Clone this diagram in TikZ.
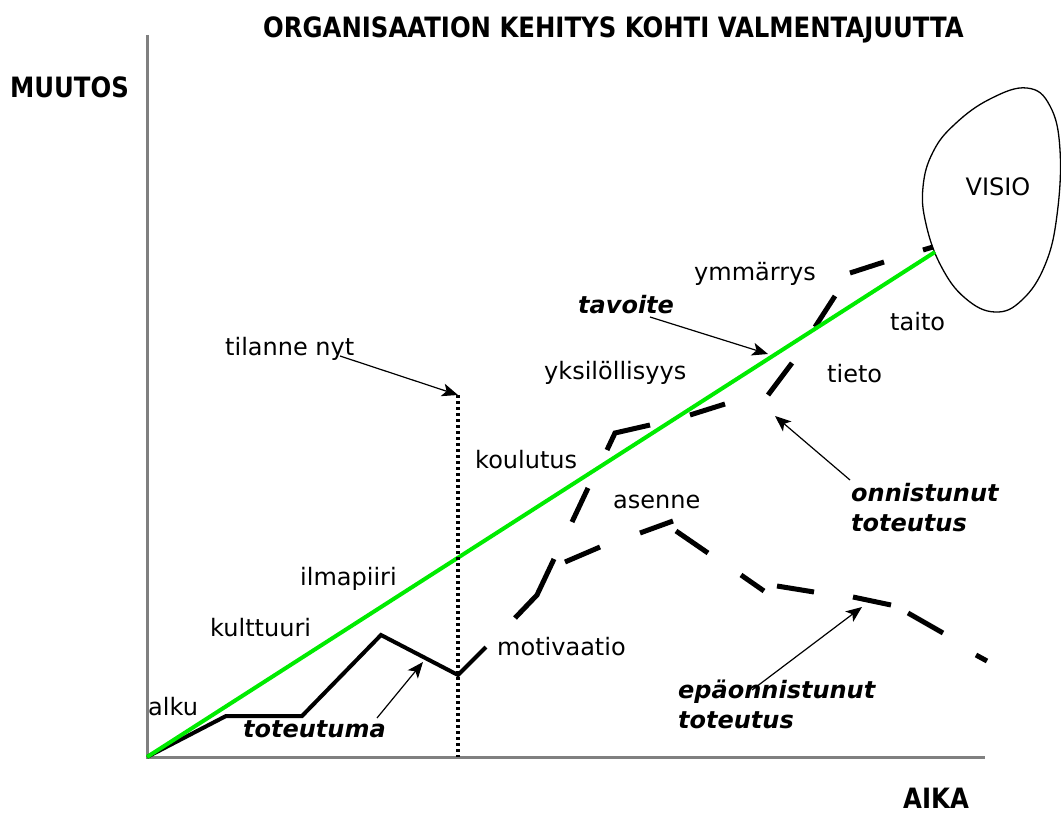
\documentclass[tikz,border=0pt]{standalone}
\usepackage{fontspec}
\setmainfont{DejaVu Sans}
\newfontfamily\headfont{DejaVu Sans}[FakeStretch=0.87]
\usetikzlibrary{arrows.meta}
\definecolor{axisgray}{RGB}{128,128,128}
\definecolor{goalgreen}{RGB}{0,235,0}

\begin{document}
\begin{tikzpicture}[x=1pt,y=-1pt,
  lbl/.style={font=\fontsize{24}{30}\selectfont, inner sep=0pt, anchor=base west},
  emph/.style={font=\fontsize{24}{30}\selectfont\bfseries\itshape, inner sep=0pt, anchor=base west, align=left},
  head/.style={font=\headfont\fontsize{28}{32}\selectfont\bfseries, inner sep=0pt, anchor=base west},
  axis/.style={axisgray, line width=3pt},
  pointer/.style={line width=1.2pt, -{Stealth[length=16pt,width=13pt,inset=4pt]}},
  realized/.style={line width=4pt, line join=miter},
  dashpiece/.style={line width=5pt, line join=miter},
  goal/.style={goalgreen, line width=4pt},
  nowline/.style={line width=3.5pt, dash pattern=on 3pt off 3pt},
  blob/.style={line width=1.3pt}
]
\useasboundingbox (0,0) rectangle (1061,816);

% headings and axis names
\node[head] (title) at (263,38) {ORGANISAATION KEHITYS KOHTI VALMENTAJUUTTA};
\node[head] (yname) at (10,98) {MUUTOS};
\node[head] (xname) at (903,808) {AIKA};

% axes
\coordinate (origin) at (147,757);
\coordinate (ytop) at (147,35);
\coordinate (xend) at (985,757);
\draw[axis] (ytop) -- (origin) -- (xend);

% vision cloud
\draw[blob] plot[smooth cycle, tension=0.7] coordinates {
  (1027,88) (1050,106) (1060,150) (1057,215) (1045,265) (1022,300)
  (995,312) (965,298) (941,266) (926,224) (923,187) (933,152)
  (955,124) (990,99)};
\node[lbl, anchor=base] (visio) at (998,195) {VISIO};

% realized path so far
\draw[realized] (origin) -- (226,716) -- (302,716) -- (381,635) -- (458,675) -- (486,647);

% continuation: shared start
\draw[dashpiece] (515,618) -- (537,595) -- (554,559);
% successful continuation
\draw[dashpiece] (572,522) -- (588,488);
\draw[dashpiece] (607,450) -- (615,433) -- (650,425);
\draw[dashpiece] (690,415) -- (725,404);
\draw[dashpiece] (768,395) -- (792,363);
\draw[dashpiece] (815,327) -- (835,296);
\draw[dashpiece] (850,273) -- (884,262);
\draw[dashpiece] (923,250) -- (933,247);
% unsuccessful continuation
\draw[dashpiece] (565,562) -- (600,547);
\draw[dashpiece] (640,533) -- (673,521);
\draw[dashpiece] (676,531) -- (708,553);
\draw[dashpiece] (741,575) -- (764,591);
\draw[dashpiece] (777,586) -- (814,592);
\draw[dashpiece] (853,597) -- (891,605);
\draw[dashpiece] (908,613) -- (943,633);
\draw[dashpiece] (976,655) -- (987,661);

% target line
\coordinate (goalend) at (935,252);
\draw[goal] (origin) -- (goalend);

% present moment
\coordinate (nowtop) at (458,395);
\coordinate (nowbase) at (458,757);
\draw[nowline] (nowtop) -- (nowbase);

% labels
\node[lbl] (tilanne) at (225,355) {tilanne nyt};
\node[lbl] (ymm) at (694,280) {ymmärrys};
\node[lbl] (taito) at (890,330) {taito};
\node[lbl] (tieto) at (827,382) {tieto};
\node[lbl] (yks) at (544,379) {yksilöllisyys};
\node[lbl] (koul) at (475,468) {koulutus};
\node[lbl] (asenne) at (613,508) {asenne};
\node[lbl] (ilma) at (300,585) {ilmapiiri};
\node[lbl] (kult) at (210,636) {kulttuuri};
\node[lbl] (moti) at (497,655) {motivaatio};
\node[lbl] (alku) at (148,715) {alku};
\node[emph] (tavoite) at (578,313) {tavoite};
\node[emph] (toteutuma) at (243,737) {toteutuma};
\node[emph] (onn) at (851,531) {onnistunut\\toteutus};
\node[emph] (epa) at (678,728) {epäonnistunut\\toteutus};

% pointers
\coordinate (tilTail) at (340,356);
\coordinate (tavTail) at (650,317);
\coordinate (tavTip) at (768,354);
\coordinate (onnTail) at (850,480);
\coordinate (onnTip) at (775,416);
\coordinate (epaTail) at (752,690);
\coordinate (epaTip) at (862,607);
\coordinate (totTail) at (377,718);
\coordinate (totTip) at (423,662);
\draw[pointer] (tilTail) -- (nowtop);
\draw[pointer] (tavTail) -- (tavTip);
\draw[pointer] (onnTail) -- (onnTip);
\draw[pointer] (epaTail) -- (epaTip);
\draw[pointer] (totTail) -- (totTip);
\end{tikzpicture}
\end{document}
